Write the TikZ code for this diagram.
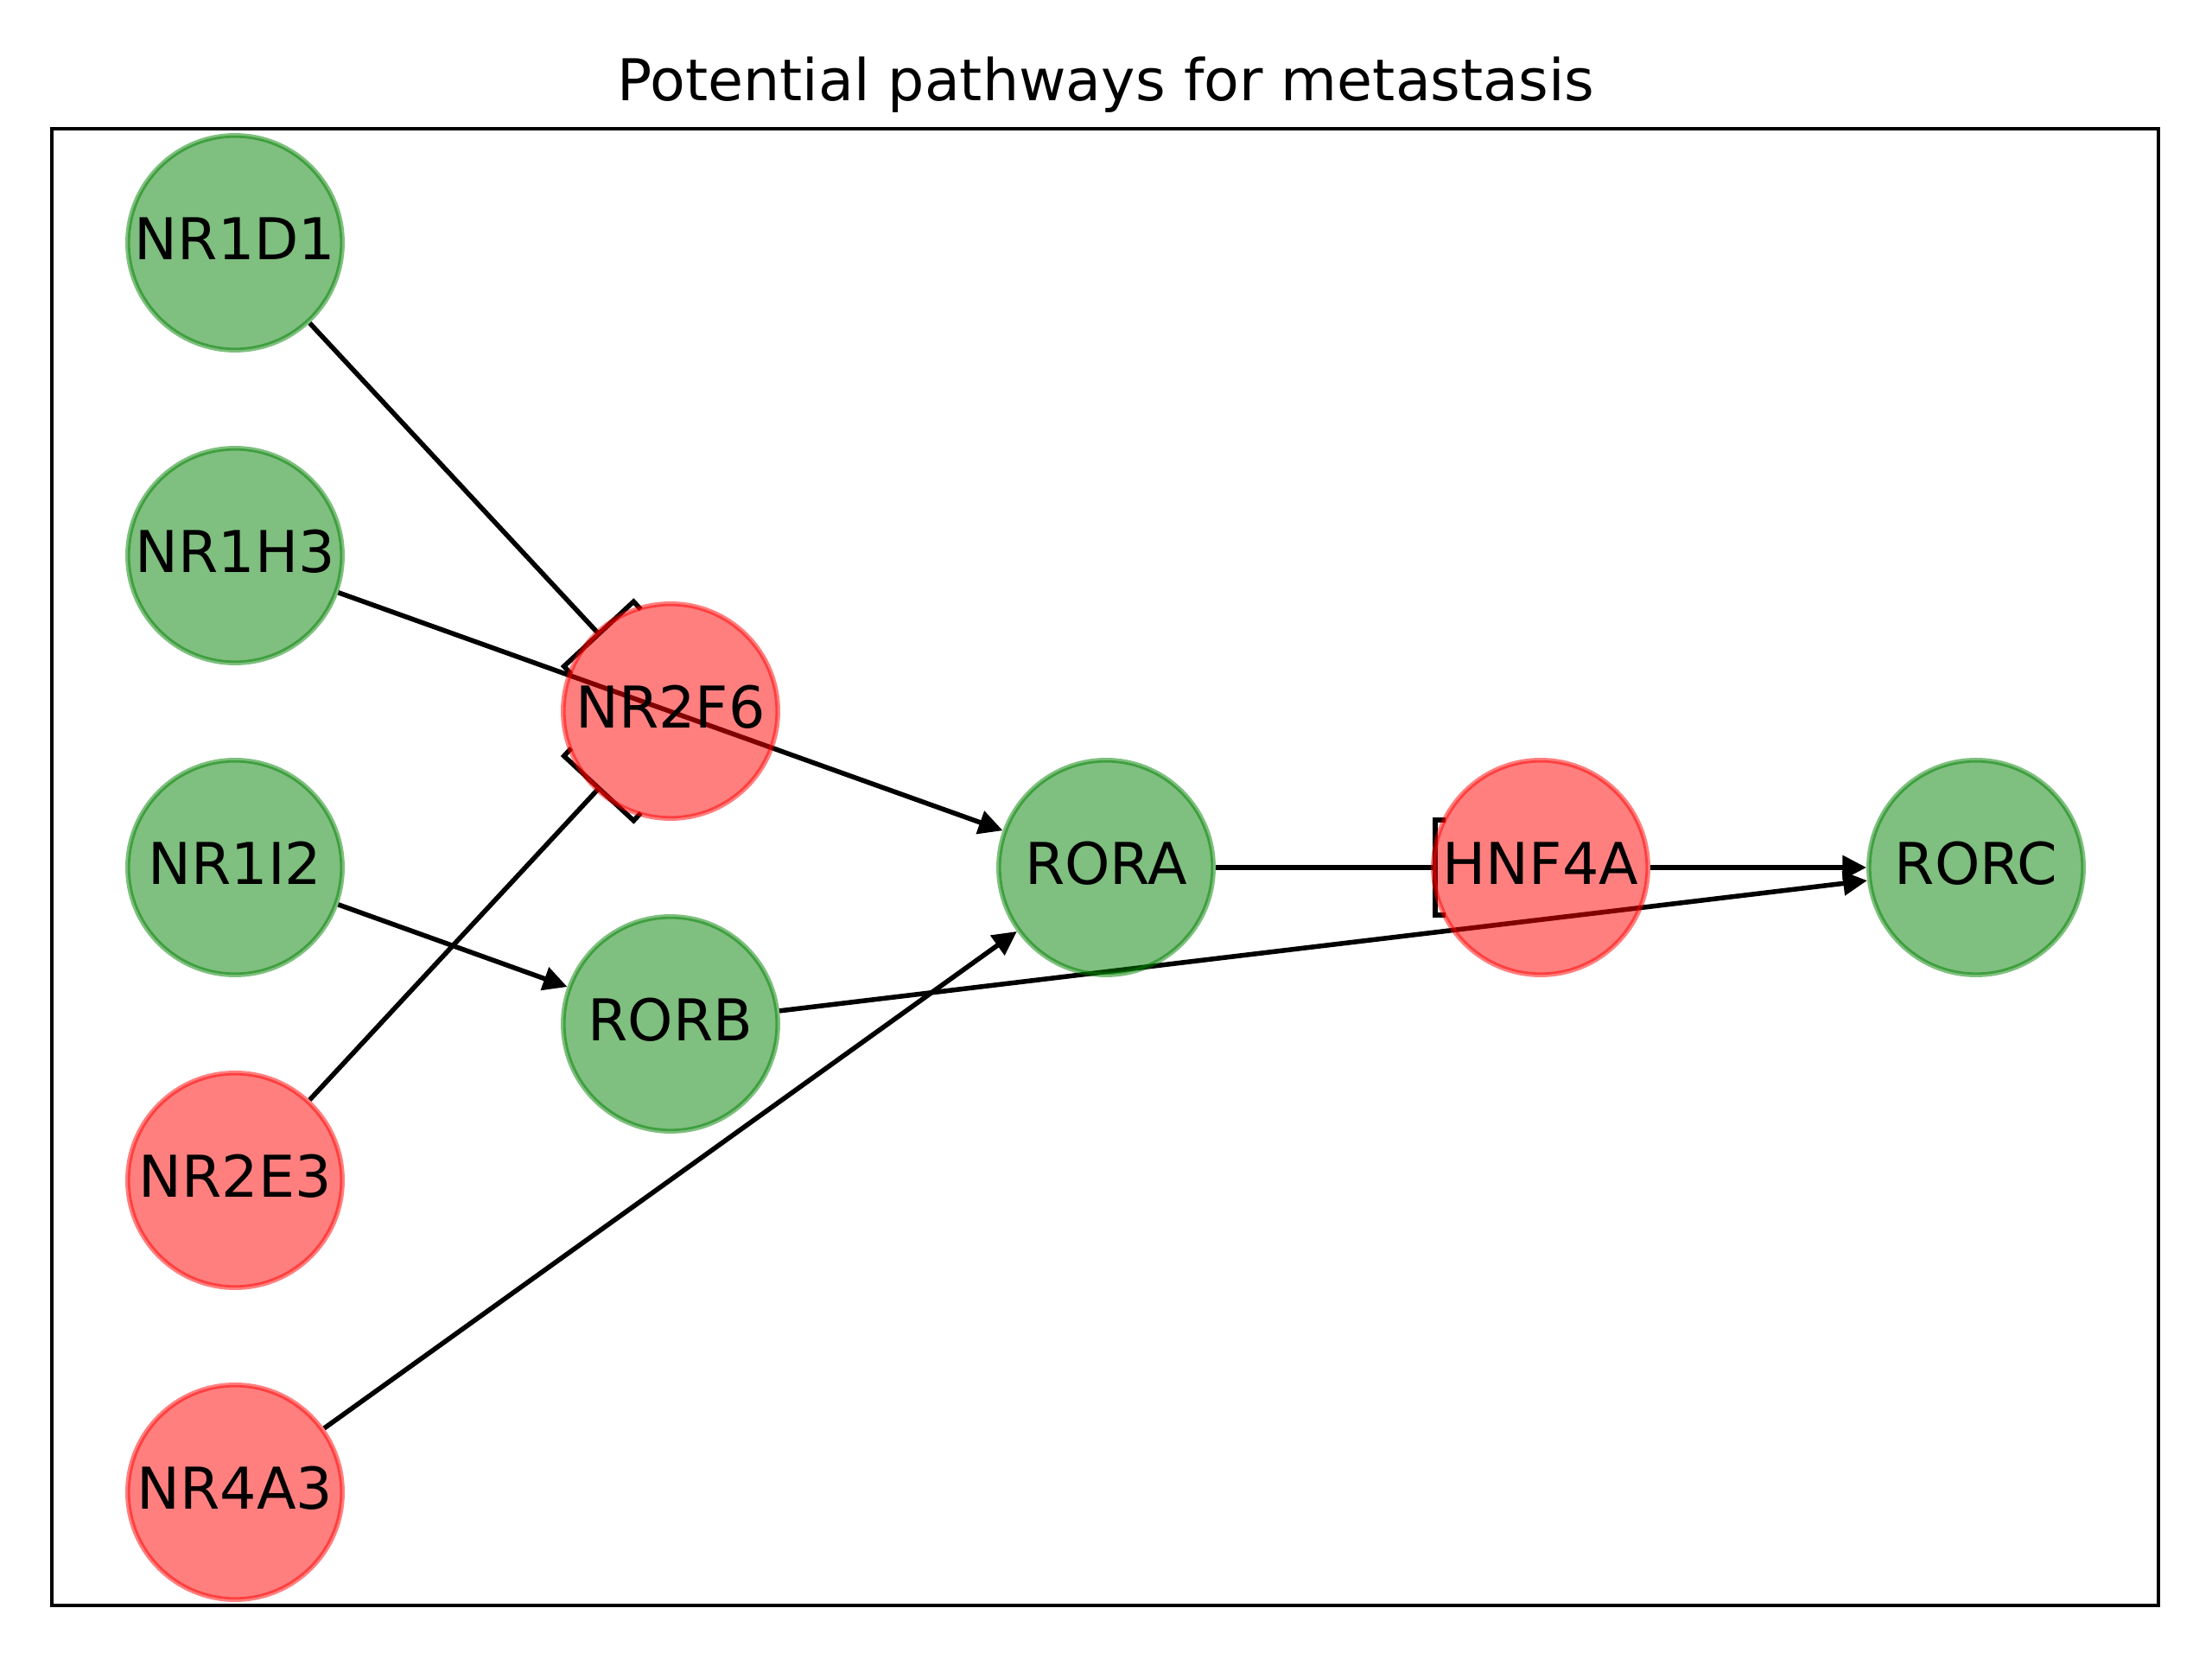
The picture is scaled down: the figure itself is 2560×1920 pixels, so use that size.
\documentclass[tikz,border=0pt]{standalone}
\usepackage{fontspec}
\setmainfont{DejaVu Sans}
\usetikzlibrary{arrows.meta,calc}
\definecolor{mgreen}{RGB}{0,128,0}
\definecolor{mred}{RGB}{255,0,0}
\pgfdeclarelayer{edges}
\pgfsetlayers{edges,main}
\begin{document}
\begin{tikzpicture}[x=0.18pt,y=-0.18pt,
  gene/.style={circle,minimum size=44.7pt,inner sep=0pt,outer sep=0.5pt,line width=1pt,
    fill opacity=0.5,draw opacity=0.5,text opacity=1,
    font=\fontsize{12}{14}\selectfont,text height=8.75pt,text depth=1.9pt},
  up/.style={gene,fill=mgreen,draw=mgreen},
  down/.style={gene,fill=mred,draw=mred},
  act/.style={line width=1pt,-{Triangle[length=5pt,width=4.9pt]}},
  inh/.style={line width=1pt,shorten >=-3.1pt,-{Bracket[reversed,width=20.8pt,length=2.2pt]}},
]
\useasboundingbox (0,0) rectangle (2560,1920);
\node[font=\fontsize{12}{14}\selectfont,anchor=base,inner sep=0pt] (title) at (1280,117) {Potential pathways for metastasis};
\draw[line width=0.8pt] (60,149) rectangle (2498,1858);

\node[up]   (NR1D1) at (272,281)  {NR1D1};
\node[up]   (NR1H3) at (272,643)  {NR1H3};
\node[up]   (NR1I2) at (272,1004) {NR1I2};
\node[down] (NR2E3) at (272,1366) {NR2E3};
\node[down] (NR4A3) at (272,1727) {NR4A3};
\node[down] (NR2F6) at (776,823)  {NR2F6};
\node[up]   (RORB)  at (776,1185) {RORB};
\node[up]   (RORA)  at (1280,1004) {RORA};
\node[down] (HNF4A) at (1783,1004) {HNF4A};
\node[up]   (RORC)  at (2287,1004) {RORC};

\begin{pgfonlayer}{edges}
\draw[inh] (NR1D1) -- (NR2F6);
\draw[inh] (NR2E3) -- (NR2F6);
\draw[act] (NR1H3) -- (RORA);
\draw[act] (NR1I2) -- (RORB);
\draw[act] (NR4A3) -- (RORA);
\draw[act] (RORB) -- (RORC);
\draw[inh] (RORA) -- (HNF4A);
\draw[act] (HNF4A) -- (RORC);
\end{pgfonlayer}
\end{tikzpicture}
\end{document}
